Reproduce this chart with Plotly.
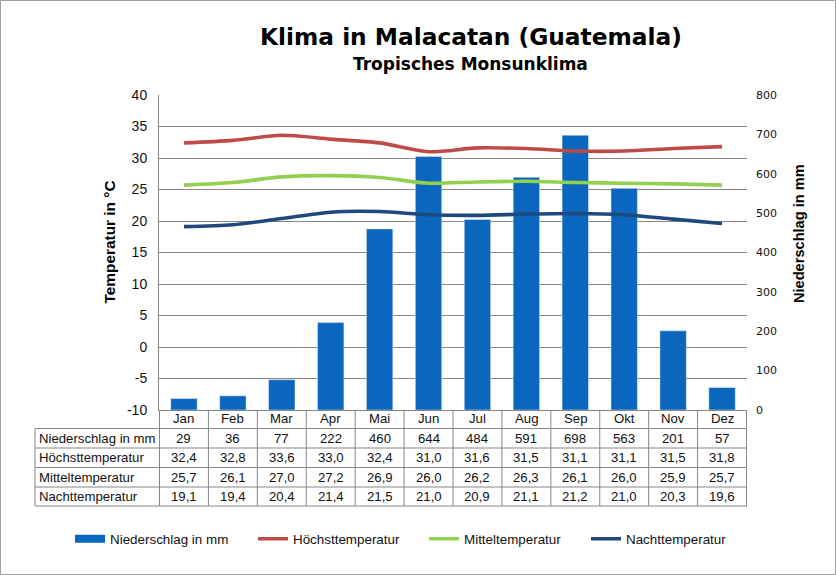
import plotly.graph_objects as go

months = ["Jan","Feb","Mar","Apr","Mai","Jun","Jul","Aug","Sep","Okt","Nov","Dez"]
rain = [29,36,77,222,460,644,484,591,698,563,201,57]
high = [32.4,32.8,33.6,33.0,32.4,31.0,31.6,31.5,31.1,31.1,31.5,31.8]
mean = [25.7,26.1,27.0,27.2,26.9,26.0,26.2,26.3,26.1,26.0,25.9,25.7]
night = [19.1,19.4,20.4,21.4,21.5,21.0,20.9,21.1,21.2,21.0,20.3,19.6]
temp_ticks = [-10,-5,0,5,10,15,20,25,30,35,40]
NAME_RAIN, NAME_HIGH, NAME_MEAN, NAME_NIGHT = "Niederschlag in mm", "Höchsttemperatur", "Mitteltemperatur", "Nachttemperatur"

W, H = 836, 575
L, R, T, B = 159, 747, 95, 410
GRID = "#868686"
TXT = "#111111"
def px(x): return (x - L) / (R - L)
def py(y): return (B - y) / (B - T)

fig = go.Figure()
fig.add_bar(x=months, y=rain, yaxis="y", marker_color="#0A67BD", width=0.54, showlegend=False)
fig.add_scatter(x=[None], y=[None], mode="lines", name=NAME_RAIN, line=dict(color="#0A67BD", width=8), yaxis="y", legend="legend")
for name, vals, col, lg in [(NAME_HIGH, high, "#BE4B48", "legend2"), (NAME_MEAN, mean, "#92D050", "legend3"), (NAME_NIGHT, night, "#1F497D", "legend4")]:
    fig.add_scatter(x=months, y=vals, mode="lines", name=name, yaxis="y2", legend=lg,
                    line=dict(color=col, width=3.6, shape="spline", smoothing=0.8))

shapes, ann = [], []
rows_y = [428.5, 448, 467.5, 487, 506]
line = dict(color=GRID, width=1)
# image border
shapes.append(dict(type="rect", xref="paper", yref="paper", x0=px(0.5), x1=px(W - 0.5), y0=py(0.5), y1=py(H - 0.5),
                   line=dict(color="#a0a0a0", width=1)))
# table grid
for i in range(len(months) + 1):
    shapes.append(dict(type="line", xref="x", yref="paper", x0=i - 0.5, x1=i - 0.5, y0=py(410), y1=py(rows_y[-1]), line=line))
shapes.append(dict(type="line", xref="paper", yref="paper", x0=px(35), x1=px(35), y0=py(rows_y[0]), y1=py(rows_y[-1]), line=line))
for y in rows_y:
    shapes.append(dict(type="line", xref="paper", yref="paper", x0=px(35), x1=1, y0=py(y), y1=py(y), line=line))
# table text
cell_font = dict(family="Liberation Sans", size=13.2, color=TXT)
for m in months:
    ann.append(dict(text=m, xref="x", yref="paper", x=m, y=py(419), xanchor="center", yanchor="middle",
                    showarrow=False, font=cell_font))
table = [(NAME_RAIN, [str(v) for v in rain])]
for name, vals in [(NAME_HIGH, high), (NAME_MEAN, mean), (NAME_NIGHT, night)]:
    table.append((name, [f"{v:.1f}".replace(".", ",") for v in vals]))
for r, (name, vals) in enumerate(table):
    yc = py((rows_y[r] + rows_y[r + 1]) / 2)
    ann.append(dict(text=name, xref="paper", yref="paper", x=px(37), y=yc, xanchor="left", yanchor="middle",
                    showarrow=False, font=cell_font))
    for m, v in zip(months, vals):
        ann.append(dict(text=v, xref="x", yref="paper", x=m, y=yc, xanchor="center", yanchor="middle",
                        showarrow=False, font=cell_font))
# titles
ann.append(dict(text="<b>Klima in Malacatan (Guatemala)</b>", xref="paper", yref="paper", x=px(470.5), y=py(36),
                xanchor="center", yanchor="middle", showarrow=False, font=dict(family="DejaVu Sans", size=23.3, color="#000")))
ann.append(dict(text="<b>Tropisches Monsunklima</b>", xref="paper", yref="paper", x=px(470), y=py(64),
                xanchor="center", yanchor="middle", showarrow=False, font=dict(family="DejaVu Sans", size=17, color="#000")))
ann.append(dict(text="<b>Temperatur in °C</b>", xref="paper", yref="paper", x=px(108.5), y=py(242), textangle=-90,
                xanchor="center", yanchor="middle", showarrow=False, font=dict(family="Liberation Sans", size=15.4, color="#000")))
ann.append(dict(text="<b>Niederschlag in mm</b>", xref="paper", yref="paper", x=px(799), y=py(234), textangle=-90,
                xanchor="center", yanchor="middle", showarrow=False, font=dict(family="Liberation Sans", size=14.6, color="#000")))

def legend_at(text_left):
    return dict(orientation="h", x=px(text_left - 40), y=py(539), xanchor="left", yanchor="middle", itemwidth=30,
                font=dict(family="Liberation Sans", size=13.4, color=TXT), bgcolor="rgba(0,0,0,0)",
                itemclick=False, itemdoubleclick=False)

fig.update_layout(
    width=W, height=H, autosize=False,
    margin=dict(l=L, r=W - R, t=T, b=H - B, pad=0),
    paper_bgcolor="white", plot_bgcolor="white",
    bargap=0.46, shapes=shapes, annotations=ann,
    xaxis=dict(type="category", categoryorder="array", categoryarray=months, showline=True, linecolor=GRID,
               ticks="", showticklabels=False, showgrid=False),
    yaxis=dict(range=[0, 800], dtick=100, side="right", showgrid=False, zeroline=False, showline=False, ticks="",
               ticklabelstandoff=8, tickfont=dict(family="DejaVu Sans", size=11, color=TXT)),
    yaxis2=dict(range=[-10, 40], tickmode="array", tickvals=temp_ticks, ticktext=[str(v) for v in temp_ticks],
                side="left", overlaying="y", showgrid=True, gridcolor=GRID, gridwidth=1,
                zeroline=False, showline=True, linecolor=GRID, ticks="", ticklabelstandoff=8,
                tickfont=dict(family="Liberation Sans", size=14, color=TXT)),
    legend=legend_at(110), legend2=legend_at(293), legend3=legend_at(464), legend4=legend_at(626),
)
fig.write_html("out.html", config=dict(displayModeBar=False), post_script="document.body.style.margin='0';")
